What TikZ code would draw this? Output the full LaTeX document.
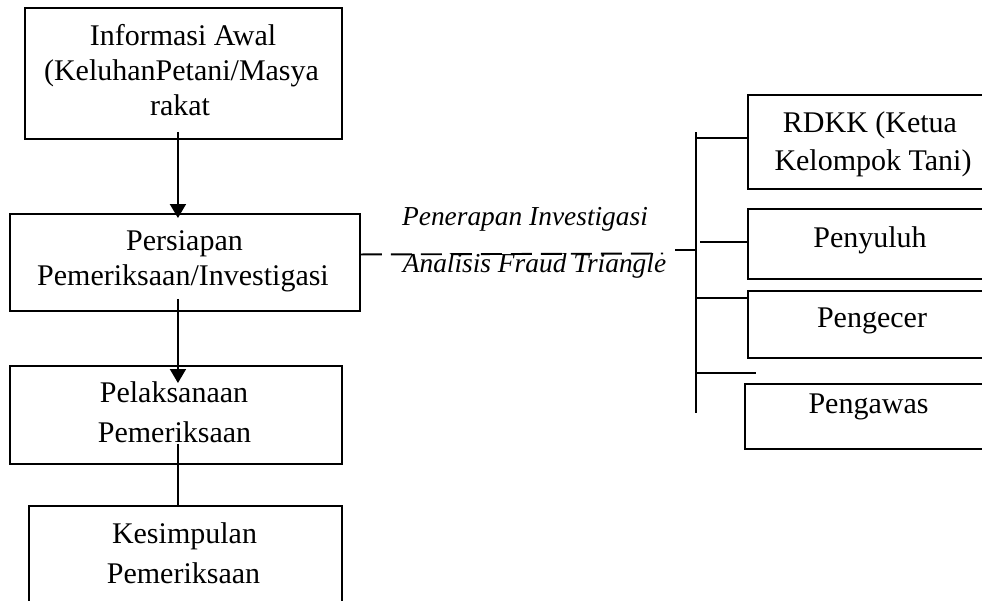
\documentclass[tikz,border=0pt]{standalone}
\usepackage{fontspec}
\setmainfont{Liberation Serif}
\usetikzlibrary{arrows.meta,calc}
\begin{document}
\begin{tikzpicture}[x=1pt,y=-1pt,
  line width=1.9pt,
  boxnode/.style={draw, rectangle, inner sep=0pt, anchor=north west},
  txt/.style={inner sep=0pt, anchor=base, font=\fontsize{30}{34}\selectfont},
  lab/.style={inner sep=0pt, anchor=base, font=\fontsize{27.4}{32}\selectfont\itshape},
  arr/.style={-{Triangle[length=14pt,width=16pt]}},
  dashline/.style={dash pattern=on 21pt off 9pt}
]
\useasboundingbox (0,0) rectangle (982,600);
\fill[white] (0,0) rectangle (982,600);

% left boxes
\node[boxnode, minimum width=317pt, minimum height=131pt] (b1) at (24,7) {};
\node[boxnode, minimum width=350pt, minimum height=97pt] (b2) at (9,213) {};
\node[boxnode, minimum width=332pt, minimum height=98pt] (b3) at (9,365) {};
\node[boxnode, minimum width=313pt, minimum height=115pt] (b4) at (28,505) {};

% right boxes
\node[boxnode, minimum width=250pt, minimum height=94pt] (r1) at (747,94) {};
\node[boxnode, minimum width=250pt, minimum height=70pt] (r2) at (747,208) {};
\node[boxnode, minimum width=250pt, minimum height=67pt] (r3) at (747,290) {};
\node[boxnode, minimum width=253pt, minimum height=65pt] (r4) at (744,383) {};

% texts
\node[txt] (t1a) at (183,45.5) {Informasi Awal};
\node[txt] (t1b) at (181.5,80.5) {(KeluhanPetani/Masya};
\node[txt] (t1c) at (180,115) {rakat};
\node[txt] (t2a) at (184.5,250) {Persiapan};
\node[txt] (t2b) at (183,285) {Pemeriksaan/Investigasi};
\node[txt] (t3a) at (174,402) {Pelaksanaan};
\node[txt] (t3b) at (174.5,442) {Pemeriksaan};
\node[txt] (t4a) at (184.5,543) {Kesimpulan};
\node[txt] (t4b) at (183.5,583) {Pemeriksaan};

\node[txt] (s1a) at (870,132) {RDKK (Ketua};
\node[txt] (s1b) at (873,170) {Kelompok Tani)};
\node[txt] (s2) at (870,247) {Penyuluh};
\node[txt] (s3) at (872,327) {Pengecer};
\node[txt] (s4) at (868.5,413.5) {Pengawas};

\node[lab] (l1) at (525,225) {Penerapan Investigasi};
\node[lab] (l2) at (534.5,272) {Analisis Fraud Triangle};

% vertical flow
\draw[arr] ($(b1.south)+(-5.5,-8)$) -- ($(b2.north)+(-7,5)$);
\draw[arr] ($(b2.south)+(-7,-13)$) -- ($(b3.north)+(2,18)$);
\draw ($(b3.south)+(2,-21)$) -- ($(b4.north)+(-7.5,0)$);

% dashed connector to the bracket
\coordinate (dashend) at (663,253.5);
\coordinate (tick) at (675,250);
\coordinate (bartop) at (696,132);
\coordinate (barbot) at (696,413);
\draw[dashline] ($(b2.east)+(0,-8)$) -- (dashend);
\draw (tick) -- (tick -| bartop);
\draw (bartop) -- (barbot);

% branches
\draw ($(r1.west)+(-51,-4)$) -- ($(r1.west)+(0,-4)$);
\draw ($(r2.west)+(-47,-2)$) -- ($(r2.west)+(0,-2)$);
\draw ($(r3.west)+(-51,-26.5)$) -- ($(r3.west)+(0,-26.5)$);
\draw ($(r4.north west)+(-48,-10)$) -- ($(r4.north west)+(12,-10)$);
\end{tikzpicture}
\end{document}
